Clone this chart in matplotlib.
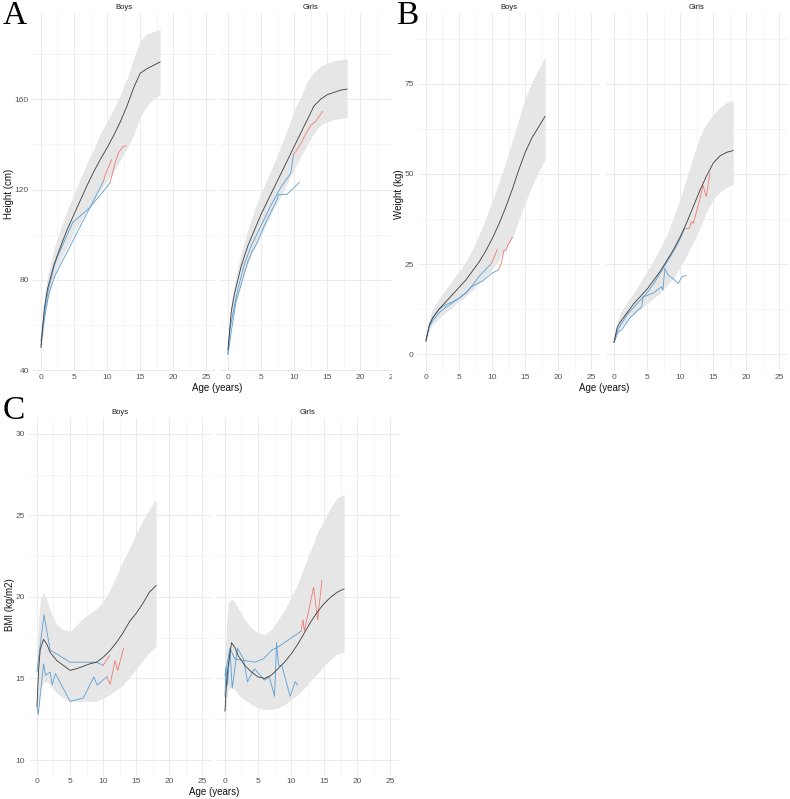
import matplotlib.pyplot as plt
from matplotlib.ticker import MultipleLocator
from matplotlib.patches import Rectangle

plt.rcParams['font.family'] = ['Liberation Sans', 'DejaVu Sans']

# reference ages for the growth curves
age_ref = [0, 0.5, 1, 2, 3, 4, 5, 6, 7, 8, 9, 10, 11, 12, 13, 14, 15, 16, 17, 18]
age_bmi = [0, 0.25, 0.5, 1, 1.5, 2, 3, 4, 5, 6, 7, 8, 9, 10, 11, 12, 13, 14, 15, 16, 17, 18]

# --- Height (cm)
h_boys_lo = [46, 62, 71, 81, 89, 95, 101, 106, 111, 115, 120, 124, 128, 133, 138, 144, 152, 157, 160, 162]
h_boys_med = [50, 67, 76, 87, 95, 102.5, 109, 115.5, 122, 128, 133.5, 138.5, 144, 150, 157, 165, 171.5, 173.5, 175, 176.5]
h_boys_hi = [54, 72, 82, 94, 103, 111, 118, 125, 132, 138, 145, 150, 156, 162, 169, 178, 186, 189, 190, 191]
h_girls_lo = [45, 60, 68, 79, 87, 94, 100, 106, 112, 117, 123, 129, 134.5, 140, 145, 148.5, 150, 151, 151.5, 152]
h_girls_med = [49, 66, 74, 86, 95, 102, 109, 115, 121, 127, 133, 139, 145, 151, 157, 160, 162, 163, 164, 164.5]
h_girls_hi = [53, 70, 79, 92, 102, 111, 118.5, 125, 132, 139, 147, 155, 161, 168, 172, 174.5, 176, 177, 177.5, 178]

h_boy1_age = [0, 0.3, 0.6, 1.2, 2.1, 9.45]
h_boy1 = [51, 58, 64, 74, 81.7, 123.7]
h_boy1r_age = [9.45, 9.7, 10.0, 10.7]
h_boy1r = [123.7, 126.5, 128.5, 133.3]
h_boy2_age = [0, 0.5, 1, 2, 2.6, 4.8, 7.4, 10.45]
h_boy2 = [53, 65, 74, 86, 91, 105.4, 112, 123]
h_boy2r_age = [10.45, 10.8, 11.2, 11.7, 12.4, 12.9]
h_boy2r = [123, 127, 131.8, 136.3, 139, 139.4]

h_girl1_age = [0, 0.3, 0.8, 1.5, 2.5, 3.5, 5, 6.5, 8, 9.5, 9.9]
h_girl1 = [47, 58, 66, 76, 87, 95, 104, 113, 121, 127.3, 135.5]
h_girl1r_age = [9.9, 10.3, 11.06, 11.8, 12.6, 13.2, 14.3]
h_girl1r = [135.5, 137, 140.6, 145, 148.7, 150, 154.6]
h_girl2_age = [0, 0.4, 1.2, 2.0, 3.0, 3.7, 3.9, 4.5, 5.5, 6.5, 7.5, 7.6, 8.9, 10.8]
h_girl2 = [47, 55, 70, 78, 88, 93, 93.5, 97, 104, 110, 116, 117.8, 117.8, 123.2]

# --- Weight (kg)
w_boys_lo = [2.8, 6.5, 8.2, 10, 11.5, 13, 14.5, 16, 17.5, 19.5, 21.5, 23.5, 26, 29, 32, 37, 42, 46.5, 50.5, 54]
w_boys_med = [3.5, 8, 10, 12.5, 14.5, 16.5, 18.5, 20.5, 23, 25.5, 28.5, 32, 36, 40.5, 45.5, 51, 56, 60, 63, 66]
w_boys_hi = [4.8, 10, 12.5, 15.5, 18, 20.5, 23, 25.5, 29, 33, 37.5, 42.5, 47.5, 53, 59, 65, 71, 75.5, 79, 82.5]
w_girls_lo = [2.7, 6, 7.5, 9.5, 11, 12.5, 14, 15.5, 17, 19, 21, 24, 27.5, 31, 35, 39.5, 43, 45, 46.2, 47]
w_girls_med = [3.3, 7.5, 9, 11.5, 14, 16, 18, 20.5, 23, 26, 29, 32.5, 36.5, 41, 45.5, 49.5, 53, 55, 56, 56.5]
w_girls_hi = [4.5, 9, 11.5, 14.5, 17, 20, 23, 26, 29.5, 33, 38, 43, 49, 55, 60.5, 64, 66.5, 68.5, 69.8, 70.6]

w_boy1_age = [0, 0.5, 1, 2, 3, 4, 5, 6, 7, 8, 9.9]
w_boy1 = [4, 7.5, 9.2, 11.5, 13, 14.2, 15.5, 17, 19, 21.5, 25.2]
w_boy1r_age = [9.9, 10.8]
w_boy1r = [25.2, 29.1]
w_boy2_age = [0, 0.5, 1, 2, 3, 4, 5, 6, 6.9, 8.2, 8.6, 9.9, 10.9]
w_boy2 = [4, 8, 10, 12.5, 13.7, 14.5, 15.5, 16.9, 18.7, 20, 20.3, 22.4, 23.3]
w_boy2r_age = [10.9, 11.4, 11.8, 12.1, 12.4, 13.05]
w_boy2r = [23.3, 25.2, 28.9, 28.8, 30.3, 32.4]

w_girl1_age = [0, 0.5, 1, 2, 3, 4, 5, 6, 7, 8, 9, 10, 10.7]
w_girl1 = [3.2, 6.5, 8, 11, 13, 15, 17, 19.5, 22.5, 25.5, 28.5, 32, 34.9]
w_girl1r_age = [10.7, 11.4, 11.7, 12.0, 12.95, 13.45, 13.96, 14.5]
w_girl1r = [34.9, 34.9, 36.8, 36.3, 42.8, 46.9, 43.7, 50.2]
w_girl2_age = [0, 0.65, 1.15, 2.4, 3.5, 4.2, 4.4, 5.9, 7.2, 7.4, 7.7, 8.2, 8.9, 9.7, 10.3, 10.9]
w_girl2 = [3.2, 6.2, 6.7, 10, 12, 13.1, 15.9, 16.9, 18.7, 17.8, 23.8, 21.9, 21, 19.6, 21.5, 21.8]

# --- BMI (kg/m2)
b_boys_lo = [11.5, 13.5, 14.3, 14.8, 14.8, 14.6, 14.1, 13.8, 13.6, 13.6, 13.6, 13.6, 13.6, 13.8, 14.0, 14.3, 14.6, 15.1, 15.6, 16.1, 16.6, 17.0]
b_boys_med = [13.3, 15.5, 16.8, 17.4, 17.1, 16.6, 16.1, 15.8, 15.5, 15.6, 15.75, 15.9, 16.0, 16.3, 16.7, 17.2, 17.8, 18.5, 19.0, 19.6, 20.3, 20.7]
b_boys_hi = [16.0, 18.5, 19.8, 20.3, 19.8, 19.2, 18.3, 18.0, 17.9, 18.3, 18.7, 19.0, 19.3, 19.7, 20.4, 21.3, 22.2, 23.0, 23.9, 24.7, 25.4, 26.0]
b_girls_lo = [11.5, 13.6, 14.3, 14.5, 14.3, 14.0, 13.7, 13.4, 13.2, 13.1, 13.1, 13.2, 13.4, 13.7, 14.0, 14.4, 14.9, 15.3, 15.8, 16.2, 16.5, 16.6]
b_girls_med = [13.0, 14.8, 15.8, 17.2, 16.9, 16.4, 15.8, 15.4, 15.1, 15.0, 15.2, 15.6, 16.0, 16.5, 17.1, 17.8, 18.5, 19.1, 19.6, 20.0, 20.3, 20.5]
b_girls_hi = [15.4, 18.5, 19.6, 19.9, 19.7, 19.3, 18.6, 18.1, 17.8, 17.7, 18.0, 18.6, 19.2, 20.0, 20.8, 21.9, 22.9, 24.0, 24.7, 25.5, 26.1, 26.3]

b_boy1_age = [0, 1.06, 2.0, 5.0, 9.0, 10.0]
b_boy1 = [15.4, 18.9, 16.75, 16.0, 16.0, 15.8]
b_boy1r_age = [10.0, 10.95]
b_boy1r = [15.8, 16.4]
b_boy2_age = [0, 0.2, 1.0, 1.3, 2.0, 2.3, 2.8, 5.0, 7.0, 8.6, 9.1, 10.56]
b_boy2 = [13.3, 12.8, 15.9, 15.2, 15.4, 14.6, 15.3, 13.6, 13.8, 15.1, 14.6, 15.1]
b_boy2r_age = [10.56, 11.06, 11.8, 12.2, 13.1]
b_boy2r = [15.1, 14.65, 16.1, 15.5, 16.85]

b_girl1_age = [0, 0.76, 1.5, 3.0, 4.5, 5.8, 7.1, 8.1, 11.5]
b_girl1 = [15.2, 16.85, 16.2, 16.1, 16.0, 16.2, 16.75, 16.95, 17.9]
b_girl1r_age = [11.5, 11.8, 12.0, 13.4, 14.0, 14.65]
b_girl1r = [17.9, 18.6, 17.9, 20.6, 18.6, 21.0]
b_girl2_age = [0, 0.15, 0.4, 0.76, 1.1, 1.9, 2.8, 3.4, 4.45, 5.95, 6.7, 7.5, 7.8, 8.1, 8.6, 9.85, 10.6, 11.0]
b_girl2 = [13.9, 15.7, 14.6, 16.85, 14.4, 16.85, 16.2, 14.8, 15.6, 14.9, 15.1, 13.9, 17.2, 15.8, 15.8, 13.9, 14.8, 14.6]

BLUE = '#5A9ED4'
RED = '#F07B72'
BAND = '#E6E6E6'
MED = '#3A3A3A'

W, H = 790, 799
fig = plt.figure(figsize=(W / 100, H / 100), dpi=100)


def add_ax(left, top, width, height, z=0):
    return fig.add_axes([left / W, 1 - (top + height) / H, width / W, height / H], zorder=z)


def facet(ax, title, ages, lo, med, hi, lines, ylim, major, minor, show_y):
    ax.fill_between(ages, lo, hi, color=BAND, lw=0, zorder=1)
    ax.plot(ages, med, color=MED, lw=0.6, zorder=3)
    for a, v, c in lines:
        ax.plot(a, v, color=c, lw=0.6, zorder=2)
    ax.set_xlim(-1.2, 26.3)
    ax.set_ylim(*ylim)
    ax.xaxis.set_major_locator(MultipleLocator(5))
    ax.xaxis.set_minor_locator(MultipleLocator(2.5))
    ax.yaxis.set_major_locator(MultipleLocator(major))
    ax.yaxis.set_minor_locator(MultipleLocator(minor))
    ax.grid(which='major', color='#EBEBEB', lw=0.75)
    ax.grid(which='minor', color='#F0F0F0', lw=0.45)
    ax.set_axisbelow(True)
    for s in ax.spines.values():
        s.set_visible(False)
    ax.tick_params(which='both', length=0, labelsize=6, labelcolor='#555555')
    ax.tick_params(axis='x', pad=2.5)
    ax.tick_params(axis='y', pad=3, labelleft=show_y)
    ax.set_title(title, fontsize=5.5, color='#1A1A1A', pad=3)


# panel A
ax = add_ax(33, 13, 182, 358)
facet(ax, 'Boys', age_ref, h_boys_lo, h_boys_med, h_boys_hi,
      [(h_boy1_age, h_boy1, BLUE), (h_boy2_age, h_boy2, BLUE),
       (h_boy1r_age, h_boy1r, RED), (h_boy2r_age, h_boy2r, RED)],
      (39.6, 198.2), 40, 20, True)
ax = add_ax(220, 13, 182, 358)
facet(ax, 'Girls', age_ref, h_girls_lo, h_girls_med, h_girls_hi,
      [(h_girl1_age, h_girl1, BLUE), (h_girl2_age, h_girl2, BLUE),
       (h_girl1r_age, h_girl1r, RED)],
      (39.6, 198.2), 40, 20, False)

# hide the part of panel A that runs under panel B
fig.patches.append(Rectangle((392 / W, 1 - 400 / H), 16 / W, 400 / H, transform=fig.transFigure,
                             facecolor='white', edgecolor='none', zorder=1))

# panel B
ax = add_ax(418, 13, 182, 358, z=2)
facet(ax, 'Boys', age_ref, w_boys_lo, w_boys_med, w_boys_hi,
      [(w_boy1_age, w_boy1, BLUE), (w_boy2_age, w_boy2, BLUE),
       (w_boy1r_age, w_boy1r, RED), (w_boy2r_age, w_boy2r, RED)],
      (-4.7, 94.7), 25, 12.5, True)
ax = add_ax(606, 13, 182, 358, z=2)
facet(ax, 'Girls', age_ref, w_girls_lo, w_girls_med, w_girls_hi,
      [(w_girl1_age, w_girl1, BLUE), (w_girl2_age, w_girl2, BLUE),
       (w_girl1r_age, w_girl1r, RED)],
      (-4.7, 94.7), 25, 12.5, False)

# panel C
ax = add_ax(29, 418, 182, 357)
facet(ax, 'Boys', age_bmi, b_boys_lo, b_boys_med, b_boys_hi,
      [(b_boy1_age, b_boy1, BLUE), (b_boy2_age, b_boy2, BLUE),
       (b_boy1r_age, b_boy1r, RED), (b_boy2r_age, b_boy2r, RED)],
      (9.08, 30.98), 5, 2.5, True)
ax = add_ax(217, 418, 182, 357)
facet(ax, 'Girls', age_bmi, b_girls_lo, b_girls_med, b_girls_hi,
      [(b_girl1_age, b_girl1, BLUE), (b_girl2_age, b_girl2, BLUE),
       (b_girl1r_age, b_girl1r, RED)],
      (9.08, 30.98), 5, 2.5, False)

# axis titles
tkw = dict(fontsize=7, color='#111111', ha='center', va='center')
fig.text(217 / W, 1 - 388 / H, 'Age (years)', **tkw)
fig.text(604 / W, 1 - 388 / H, 'Age (years)', zorder=3, **tkw)
fig.text(214 / W, 1 - 792 / H, 'Age (years)', **tkw)
fig.text(9 / W, 1 - 194 / H, 'Height (cm)', rotation=90, **tkw)
fig.text(399 / W, 1 - 194 / H, 'Weight (kg)', rotation=90, zorder=3, **tkw)
fig.text(10 / W, 1 - 605 / H, 'BMI (kg/m2)', rotation=90, **tkw)

# panel letters
lkw = dict(family='Liberation Serif', fontsize=24, color='black', ha='left', va='top', zorder=3)
fig.text(3 / W, 1 - 1 / H, 'A', **lkw)
fig.text(396 / W, 1 - 1 / H, 'B', **lkw)
fig.text(3 / W, 1 - 396 / H, 'C', **lkw)

plt.savefig('out.png', dpi=100)
